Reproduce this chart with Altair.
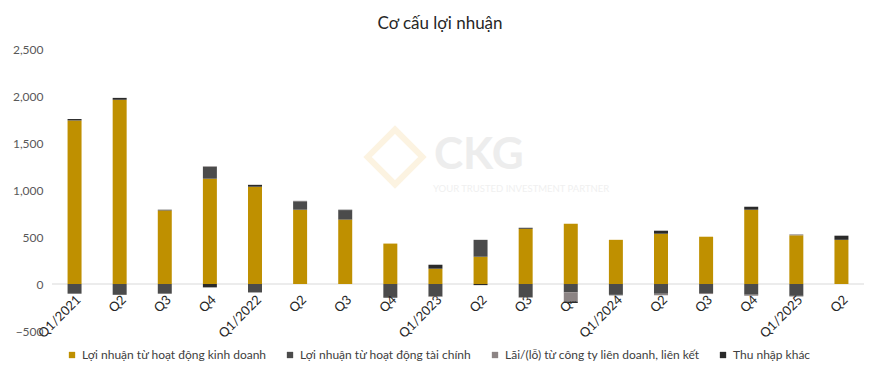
import altair as alt
import pandas as pd

quarters = ["Q1/2021", "Q2/2021", "Q3/2021", "Q4/2021",
            "Q1/2022", "Q2/2022", "Q3/2022", "Q4/2022",
            "Q1/2023", "Q2/2023", "Q3/2023", "Q4/2023",
            "Q1/2024", "Q2/2024", "Q3/2024", "Q4/2024",
            "Q1/2025", "Q2/2025"]

series_names = ["Lợi nhuận từ hoạt động kinh doanh",
                "Lợi nhuận từ hoạt động tài chính",
                "Lãi/(lỗ) từ công ty liên doanh, liên kết",
                "Thu nhập khác"]
series_colors = ["#BF9000", "#4B4B4B", "#8C8484", "#2A2A2A"]

kinh_doanh = [1740, 1960, 783, 1120, 1035, 790, 685, 430, 163, 290, 588, 640, 470, 535, 503, 790, 518, 470]
tai_chinh = [-103, -115, -103, 128, -90, 90, 95, -130, -132, 180, -142, -89, -114, -104, -96, -114, -124, 0]
lien_doanh = [0, 0, 0, 5, 0, 5, 0, 0, -5, 0, -4, -96, 0, -16, -11, -11, 10, 0]
thu_nhap_khac = [15, 20, 7, -36, 20, 0, 10, -15, 42, -12, 10, -17, -6, 32, 0, 32, -7, 44]

y_ticks = [-500, 0, 500, 1000, 1500, 2000, 2500]

rows = []
for i, q in enumerate(quarters):
    for k, (name, vals) in enumerate(zip(series_names, [kinh_doanh, tai_chinh, lien_doanh, thu_nhap_khac])):
        rows.append({"quy": q, "series": name, "order": k, "value": vals[i]})
df = pd.DataFrame(rows)
one = pd.DataFrame({"a": [0]})

label_expr = "indexof(datum.value, 'Q1') == 0 ? datum.value : slice(datum.value, 0, 2)"

bars = alt.Chart(df).mark_bar().encode(
    x=alt.X("quy:N", sort=quarters,
            scale=alt.Scale(paddingInner=0.69, paddingOuter=0.345),
            axis=alt.Axis(title=None, labelAngle=-45, labelAlign="right", labelBaseline="top",
                          labelExpr=label_expr, ticks=False, domain=False, offset=-47,
                          labelFontSize=13, labelColor="#262626", labelPadding=9,
                          labelFont="Lato", labelOverlap=False)),
    y=alt.Y("value:Q", stack="zero",
            scale=alt.Scale(domain=[-500, 2500], nice=False),
            axis=alt.Axis(title=None, values=y_ticks, format=",.0f", grid=False, domain=False,
                          ticks=False, labelPadding=9, labelFontSize=12,
                          labelColor="#595959", labelFont="Lato")),
    color=alt.Color("series:N", sort=series_names,
                    scale=alt.Scale(domain=series_names, range=series_colors),
                    legend=alt.Legend(title=None, orient="none", legendX=14, legendY=300,
                                      direction="horizontal", symbolType="square",
                                      symbolSize=40, labelFontSize=12, labelFont="Lato",
                                      labelColor="#404040", columnPadding=17, labelLimit=0,
                                      symbolStrokeWidth=0)),
    order=alt.Order("order:Q"),
)

zero_line = alt.Chart(one).mark_rule(color="#D9D9D9", strokeWidth=1).encode(
    y=alt.datum(0)
)

wm1 = alt.Chart(one).mark_text(text="CKG", font="Lato", fontSize=44, fontWeight="bold",
                               color="#EDEDED", align="left").encode(
    x=alt.value(382), y=alt.value(107))
wm2 = alt.Chart(one).mark_text(text="YOUR TRUSTED INVESTMENT PARTNER", font="Lato", fontSize=9.5,
                               color="#F0F0F0", align="left").encode(
    x=alt.value(381), y=alt.value(140))
wm3 = alt.Chart(one).mark_point(shape="diamond", size=3000, filled=False, color="#FBEFD5",
                                strokeWidth=6).encode(
    x=alt.value(343), y=alt.value(108))

chart = alt.layer(wm3, wm1, wm2, zero_line, bars).properties(
    width=812, height=282,
    autosize=alt.AutoSizeParams(type="none"),
    padding={"left": 44, "top": 41, "right": 8, "bottom": 38},
    title=alt.TitleParams("Cơ cấu lợi nhuận", font="Lato", fontSize=17, fontWeight="normal",
                          color="#262626", anchor="middle", offset=10, dx=-18, frame="group"),
).configure_view(stroke=None)

chart.save("out.html", embed_options={"renderer": "svg", "actions": False})
